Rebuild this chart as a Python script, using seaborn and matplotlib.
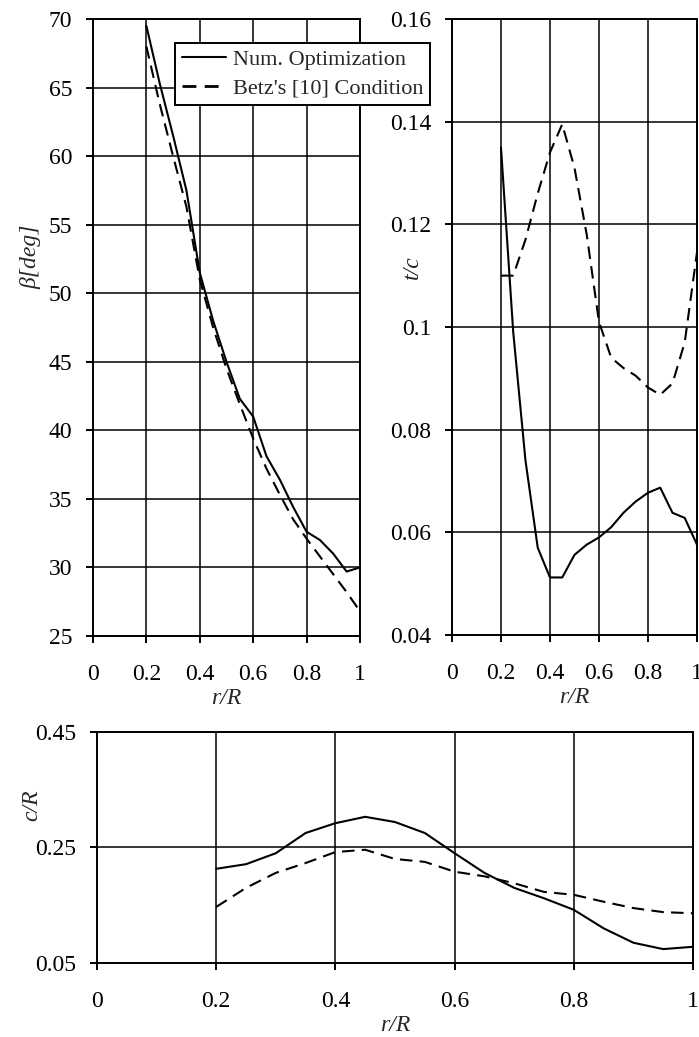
import matplotlib
matplotlib.use('Agg')
import matplotlib.pyplot as plt
import seaborn as sns
import pandas as pd

# radial stations r/R
r = [0.2, 0.25, 0.3, 0.35, 0.4, 0.45, 0.5, 0.55, 0.6, 0.65, 0.7, 0.75, 0.8, 0.85, 0.9, 0.95, 1.0]

# twist angle beta [deg]
beta_opt = [69.5, 65.3, 61.5, 57.5, 51.5, 48.0, 45.0, 42.3, 41.0, 38.1, 36.4, 34.4, 32.6, 32.0, 31.0, 29.7, 30.0]
beta_betz = [68.0, 63.8, 60.0, 56.3, 51.0, 47.5, 44.5, 41.9, 39.4, 37.2, 35.3, 33.5, 32.1, 30.8, 29.5, 28.2, 26.8]

# thickness ratio t/c
tc_opt = [0.135, 0.099, 0.074, 0.057, 0.0512, 0.0512, 0.0556, 0.0576, 0.0590, 0.061, 0.0638, 0.066, 0.0677, 0.0687, 0.0638, 0.0628, 0.0576]
tc_betz = [0.110, 0.110, 0.117, 0.126, 0.134, 0.1395, 0.131, 0.118, 0.101, 0.094, 0.092, 0.0905, 0.0882, 0.0868, 0.0890, 0.097, 0.1145]

# chord c/R
cr_opt = [0.213, 0.221, 0.240, 0.275, 0.292, 0.303, 0.294, 0.275, 0.240, 0.206, 0.180, 0.162, 0.142, 0.110, 0.085, 0.074, 0.078]
cr_betz = [0.147, 0.180, 0.206, 0.223, 0.242, 0.246, 0.230, 0.225, 0.208, 0.200, 0.188, 0.173, 0.168, 0.156, 0.145, 0.138, 0.136]

series_names = ["Num. Optimization", "Betz's [10] Condition"]

x_ticks = [0, 0.2, 0.4, 0.6, 0.8, 1.0]
x_ticklabels = ["0", "0.2", "0.4", "0.6", "0.8", "1"]
beta_ticks = [25, 30, 35, 40, 45, 50, 55, 60, 65, 70]
beta_ticklabels = ["25", "30", "35", "40", "45", "50", "55", "60", "65", "70"]
tc_ticks = [0.04, 0.06, 0.08, 0.10, 0.12, 0.14, 0.16]
tc_ticklabels = ["0.04", "0.06", "0.08", "0.1", "0.12", "0.14", "0.16"]
cr_ticks = [0.05, 0.25, 0.45]
cr_ticklabels = ["0.05", "0.25", "0.45"]

sns.set_theme(style="ticks")
plt.rcParams['font.family'] = ['Liberation Serif', 'DejaVu Serif']

FS = 16      # legend text
TFS = 17     # tick labels and axis titles

fig = plt.figure(figsize=(6.99, 10.37), dpi=100)
ax1 = fig.add_axes([0.1330, 0.3867, 0.3820, 0.5950])
ax2 = fig.add_axes([0.6466, 0.3877, 0.3505, 0.5940])
ax3 = fig.add_axes([0.1388, 0.0714, 0.8526, 0.2228])

DASH = (6, 3.5)


def long_form(opt, betz):
    return pd.DataFrame({
        "r": r + r,
        "val": opt + betz,
        "series": [series_names[0]] * len(r) + [series_names[1]] * len(r),
    })


def draw(ax, opt, betz, yticks, yticklabels, ylabel, label_xy):
    df = long_form(opt, betz)
    sns.lineplot(data=df, x="r", y="val", hue="series", style="series",
                 palette=["black", "black"],
                 dashes={series_names[0]: "", series_names[1]: DASH},
                 linewidth=1.5, ax=ax, legend=False)
    ax.set_xlim(0, 1)
    ax.set_ylim(yticks[0], yticks[-1])
    ax.set_xticks(x_ticks)
    ax.set_xticklabels(x_ticklabels, fontsize=TFS)
    ax.set_yticks(yticks)
    ax.set_yticklabels(yticklabels, fontsize=TFS)
    ax.grid(True, color="black", linewidth=1.1)
    ax.set_axisbelow(True)
    for sp in ax.spines.values():
        sp.set_visible(True)
        sp.set_color("black")
        sp.set_linewidth(1.4)
    ax.tick_params(direction="out", length=5, width=1.4, colors="black")
    ax.tick_params(axis="x", pad=15)
    ax.tick_params(axis="y", pad=10)
    ax.set_xlabel("r/R", fontsize=TFS, fontstyle="italic", labelpad=2)
    ax.set_ylabel(ylabel, fontsize=TFS, fontstyle="italic", va="center")
    ax.yaxis.set_label_coords(*label_xy)


draw(ax1, beta_opt, beta_betz, beta_ticks, beta_ticklabels, "β[deg]", (-0.232, 0.614))
draw(ax2, tc_opt, tc_betz, tc_ticks, tc_ticklabels, "t/c", (-0.163, 0.597))
draw(ax3, cr_opt, cr_betz, cr_ticks, cr_ticklabels, "c/R", (-0.109, 0.684))

handles = [
    plt.Line2D([], [], color="black", linewidth=1.5),
    plt.Line2D([], [], color="black", linewidth=2.0, dashes=(5, 3)),
]
leg = fig.legend(handles, series_names, loc="upper left",
                 bbox_to_anchor=(175 / 699, 1 - 43 / 1037),
                 fontsize=FS, frameon=True, fancybox=False, framealpha=1,
                 borderaxespad=0, borderpad=0.3, labelspacing=0.35,
                 handlelength=2.0, handletextpad=0.3)
leg.get_frame().set_edgecolor("black")
leg.get_frame().set_linewidth(1.4)

fig.savefig("out.png", dpi=100)
plt.close(fig)
